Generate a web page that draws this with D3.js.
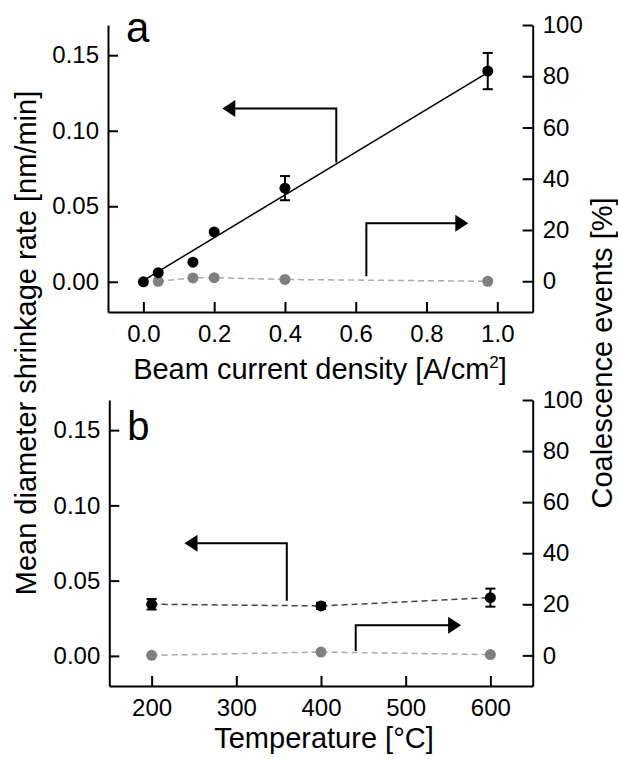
<!DOCTYPE html>
<html>
<head>
<meta charset="utf-8">
<script src="https://cdn.jsdelivr.net/npm/d3@7"></script>
<style>
  body { margin: 0; background: #fff; }
  svg { display: block; font-family: "Liberation Sans", Arial, sans-serif; }
  .axis path, .axis line { stroke: #000; stroke-width: 2; }
  .axis text { font-size: 24px; fill: #000; }
</style>
</head>
<body>
<svg id="chart" width="618" height="759"></svg>
<script>
// panel a: beam current density
var a_x = [0, 0.042, 0.14, 0.2, 0.4, 0.973];
var a_rate = [0.000, 0.006, 0.013, 0.033, 0.062, 0.1395];
var a_err = [0, 0, 0, 0, 0.008, 0.012];
var a_coalX = [0.042, 0.14, 0.2, 0.4, 0.973];
var a_coal = [0, 1.3, 1.4, 0.7, 0];
var a_fitX = [0.01, 0.962];
var a_fitRate = [0.0023, 0.137];
var a_xTicks = [0, 0.2, 0.4, 0.6, 0.8, 1.0];

// panel b: temperature
var b_x = [200, 400, 600];
var b_rate = [0.0343, 0.0332, 0.0387];
var b_err = [0.0035, 0.002, 0.006];
var b_coal = [0, 1.3, 0.3];
var b_xTicks = [200, 300, 400, 500, 600];

var leftTicks = [0, 0.05, 0.10, 0.15];
var rightTicks = [0, 20, 40, 60, 80, 100];

var svg = d3.select("#chart");

function panel(opt) {
    var g = svg.append("g");
    var x = d3.scaleLinear().domain(opt.xDomain).range([opt.left, 532.7]);
    var yl = d3.scaleLinear().domain([-0.02, 0.17]).range([opt.bottom, opt.top]);
    var yr = d3.scaleLinear().domain([-12, 100]).range([opt.bottom, opt.top]);

    g.append("g").attr("class", "axis")
        .attr("transform", "translate(" + opt.left + ",0)")
        .call(d3.axisLeft(yl).tickValues(leftTicks).tickFormat(d3.format(".2f"))
            .tickSizeInner(-10).tickSizeOuter(0).tickPadding(9));
    g.append("g").attr("class", "axis")
        .attr("transform", "translate(532.7,0)")
        .call(d3.axisRight(yr).tickValues(rightTicks)
            .tickSizeInner(-10).tickSizeOuter(0).tickPadding(10));
    g.append("g").attr("class", "axis")
        .attr("transform", "translate(0," + opt.bottom + ")")
        .call(d3.axisBottom(x).tickValues(opt.xTicks).tickFormat(opt.xFormat)
            .tickSizeInner(-10).tickSizeOuter(0).tickPadding(13));
    g.selectAll(".axis .domain").attr("fill", "none");

    // coalescence (grey, right axis)
    var lr = d3.line().x(function(d) { return x(d[0]); }).y(function(d) { return yr(d[1]); });
    var coal = d3.zip(opt.coalX, opt.coal);
    g.append("path").attr("d", lr(coal)).attr("fill", "none")
        .attr("stroke", "#aaa").attr("stroke-width", 1.5).attr("stroke-dasharray", "6,4");
    g.selectAll(null).data(coal).enter().append("circle")
        .attr("cx", function(d) { return x(d[0]); })
        .attr("cy", function(d) { return yr(d[1]); })
        .attr("r", 5.5).attr("fill", "#808080");

    // shrinkage rate (black, left axis)
    var ll = d3.line().x(function(d) { return x(d[0]); }).y(function(d) { return yl(d[1]); });
    if (opt.fitX) {
        g.append("path").attr("d", ll(d3.zip(opt.fitX, opt.fitRate))).attr("fill", "none")
            .attr("stroke", "#000").attr("stroke-width", 1.5);
    } else {
        g.append("path").attr("d", ll(d3.zip(opt.x, opt.rate))).attr("fill", "none")
            .attr("stroke", "#444").attr("stroke-width", 1.5).attr("stroke-dasharray", "6,4");
    }
    var pts = d3.zip(opt.x, opt.rate, opt.err);
    var eb = g.selectAll(null).data(pts.filter(function(d) { return d[2] > 0; })).enter().append("g")
        .attr("stroke", "#000").attr("stroke-width", 2);
    eb.append("line")
        .attr("x1", function(d) { return x(d[0]); }).attr("x2", function(d) { return x(d[0]); })
        .attr("y1", function(d) { return yl(d[1] - d[2]); }).attr("y2", function(d) { return yl(d[1] + d[2]); });
    [-1, 1].forEach(function(s) {
        eb.append("line")
            .attr("x1", function(d) { return x(d[0]) - 5; }).attr("x2", function(d) { return x(d[0]) + 5; })
            .attr("y1", function(d) { return yl(d[1] + s * d[2]); }).attr("y2", function(d) { return yl(d[1] + s * d[2]); });
    });
    g.selectAll(null).data(pts).enter().append("circle")
        .attr("cx", function(d) { return x(d[0]); })
        .attr("cy", function(d) { return yl(d[1]); })
        .attr("r", 5.5).attr("fill", "#000");

    // arrows pointing to each axis
    function arrow(p1, p2, tip, dir) {
        g.append("path")
            .attr("d", "M" + p1 + "L" + p2 + "L" + [tip[0] - dir * 12, tip[1]])
            .attr("fill", "none").attr("stroke", "#000").attr("stroke-width", 2);
        g.append("path")
            .attr("d", "M" + tip + "L" + [tip[0] - dir * 13, tip[1] - 8.5] + "L" + [tip[0] - dir * 13, tip[1] + 8.5] + "Z")
            .attr("fill", "#000");
    }
    var al = opt.arrowL, ar = opt.arrowR;
    arrow([x(al[1]), yl(al[3])], [x(al[1]), yl(al[2])], [x(al[0]), yl(al[2])], -1);
    arrow([x(ar[0]), yr(ar[1])], [x(ar[0]), yr(ar[2])], [x(ar[3]), yr(ar[2])], 1);

    g.append("text").attr("x", opt.left + 18).attr("y", opt.top + opt.labelDy)
        .attr("font-size", opt.labelSize).text(opt.label);

    var t = g.append("text").attr("x", opt.titleX).attr("y", opt.bottom + opt.titleDy)
        .attr("text-anchor", "middle").attr("font-size", 29);
    opt.title(t);
}

panel({
    left: 108, top: 25, bottom: 312,
    xDomain: [-0.1, 1.1], xTicks: a_xTicks, xFormat: d3.format(".1f"),
    x: a_x, rate: a_rate, err: a_err, coalX: a_coalX, coal: a_coal,
    fitX: a_fitX, fitRate: a_fitRate,
    arrowL: [0.223, 0.545, 0.1148, 0.079],
    arrowR: [0.63, 2.0, 22.6, 0.918],
    label: "a", labelSize: 42, labelDy: 17, titleX: 320, titleDy: 67,
    title: function(t) {
        t.append("tspan").text("Beam current density [A/cm");
        t.append("tspan").attr("font-size", 17).attr("dy", -11).text("2");
        t.append("tspan").attr("dy", 11).text("]");
    }
});

panel({
    left: 109.3, top: 400, bottom: 686,
    xDomain: [150, 650], xTicks: b_xTicks, xFormat: d3.format("d"),
    x: b_x, rate: b_rate, err: b_err, coalX: b_x, coal: b_coal,
    arrowL: [238.8, 359.6, 0.0748, 0.0367],
    arrowR: [441, 1.7, 11.8, 565.5],
    label: "b", labelSize: 40, labelDy: 40, titleX: 324, titleDy: 62,
    title: function(t) { t.text("Temperature [\u00B0C]"); }
});

svg.append("text").attr("transform", "translate(36,343) rotate(-90)")
    .attr("text-anchor", "middle").attr("font-size", 29)
    .text("Mean diameter shrinkage rate [nm/min]");
svg.append("text").attr("transform", "translate(612,353) rotate(-90)")
    .attr("text-anchor", "middle").attr("font-size", 29)
    .text("Coalescence events [%]");
</script>
</body>
</html>
